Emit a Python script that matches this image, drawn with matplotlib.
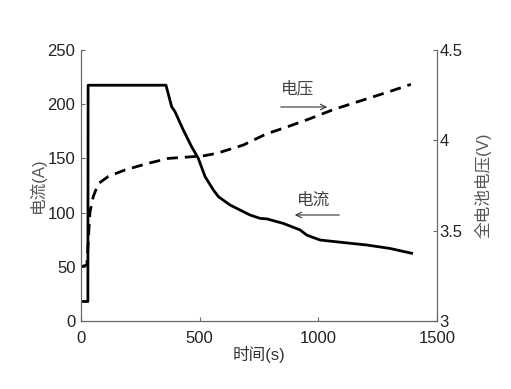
import matplotlib
matplotlib.use("Agg")
import matplotlib.pyplot as plt

plt.rcParams['font.family'] = ['Liberation Sans', 'Noto Sans CJK SC']

# current (A) vs time (s)
t_cur = [0, 29, 30, 358, 382, 396, 431, 466, 494, 523, 558, 579, 628, 670, 712, 754, 783, 853, 923, 951, 1007, 1100, 1204, 1300, 1393]
cur = [18, 18, 217.5, 217.5, 197.7, 193.1, 176.2, 160.8, 150.1, 133.1, 120.8, 114.7, 107, 102.4, 97.8, 94.7, 94.2, 90, 84, 79.3, 74.7, 72.5, 70.1, 67, 62.5]

# full-cell voltage (V) vs time (s)
t_volt = [0, 25, 33, 38, 52, 73, 115, 185, 284, 368, 466, 520, 572, 684, 780, 870, 965, 1063, 1200, 1300, 1390]
volt = [3.30, 3.31, 3.50, 3.605, 3.69, 3.76, 3.80, 3.836, 3.873, 3.90, 3.909, 3.915, 3.928, 3.974, 4.035, 4.075, 4.12, 4.17, 4.228, 4.27, 4.31]

fig = plt.figure(figsize=(5.11, 3.89), dpi=100)
ax = fig.add_axes([0.1585, 0.1748, 0.6967, 0.6967])
ax2 = ax.twinx()

ax.plot(t_cur, cur, color='black', lw=2)
ax2.plot(t_volt, volt, color='black', lw=2, linestyle=(0, (4, 2.5)))

ax.set_xlim(0, 1500)
ax.set_ylim(0, 250)
ax2.set_ylim(3, 4.5)
ax.set_xticks([0, 500, 1000, 1500])
ax.set_yticks([0, 50, 100, 150, 200, 250])
ax2.set_yticks([3, 3.5, 4, 4.5])
ax2.set_yticklabels(['3', '3.5', '4', '4.5'])

for a in (ax, ax2):
    a.spines['top'].set_visible(False)
    for s in a.spines.values():
        s.set_color('#666666')
    a.tick_params(direction='in', length=3, color='#666666', labelsize=12, labelcolor='#222222')
ax.tick_params(axis='x', pad=7)
ax.tick_params(axis='y', pad=4)
ax2.tick_params(axis='y', pad=2)

ax.set_xlabel('时间(s)', fontsize=12, color='#333333', labelpad=0)
ax.set_ylabel('电流(A)', fontsize=12, color='#555555', labelpad=1)
ax2.set_ylabel('全电池电压(V)', fontsize=12, color='#555555', labelpad=8)

ax.annotate('', xy=(1049, 197.4), xytext=(830, 197.4),
            arrowprops=dict(arrowstyle='->', color='#333333', lw=0.8))
ax.text(914, 215, '电压', ha='center', va='center', fontsize=12, color='#444444')
ax.annotate('', xy=(889, 97.8), xytext=(1100, 97.8),
            arrowprops=dict(arrowstyle='->', color='#333333', lw=0.8))
ax.text(978, 111.6, '电流', ha='center', va='center', fontsize=12, color='#444444')

fig.savefig('out.png', dpi=100)
